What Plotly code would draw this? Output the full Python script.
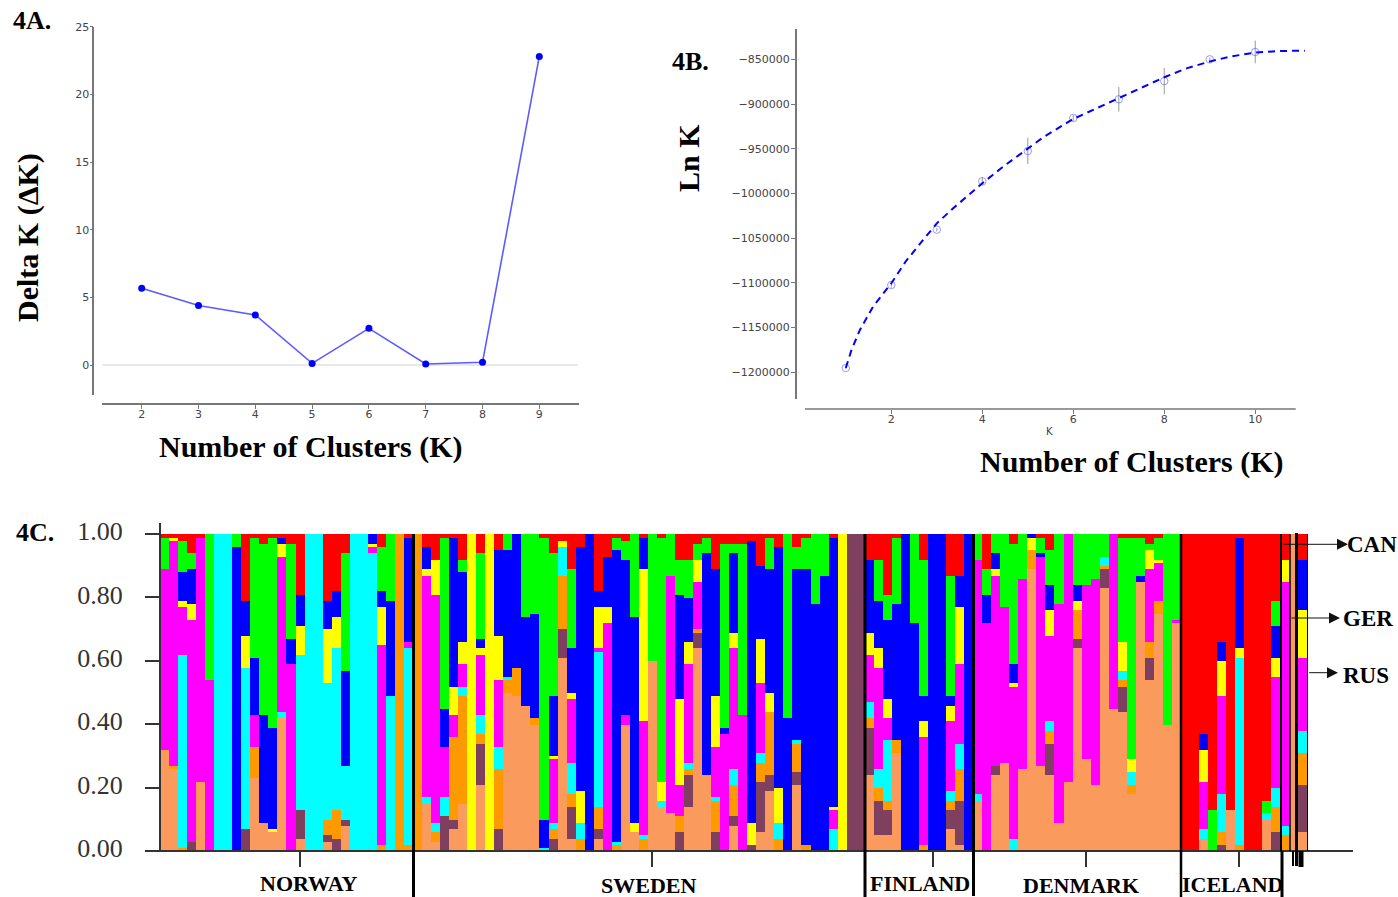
import re
import plotly.graph_objects as go

W, H = 1398, 897

# ---- 4A data
dk_k = [2, 3, 4, 5, 6, 7, 8, 9]
dk_values = [5.67, 4.39, 3.70, 0.12, 2.71, 0.07, 0.20, 22.8]

# ---- 4B data
ln_k = [1, 2, 3, 4, 5, 6, 7, 8, 9, 10]
ln_values = [-1195200, -1102400, -1040500, -986400, -952500, -915600, -894700, -874300, -850000, -841800]
ln_errors = [1500, 3000, 2000, 4500, 14700, 3400, 13600, 14700, 2000, 12700]
fit_k = [1.0, 1.125, 1.31, 1.6, 2.0, 2.33, 2.7, 3.0, 3.36, 3.73, 4.0, 4.46, 5.0, 5.34, 6.0, 6.99, 7.25, 7.61, 8.0, 8.49, 8.99, 9.44, 10.0, 10.54, 11.09]
fit_values = [-1195100, -1175000, -1152600, -1126500, -1100450, -1075100, -1052000, -1033400, -1016600, -999800, -988600,
              -970000, -949500, -937200, -916700, -893600, -886900, -878700, -870100, -860100, -852600, -847000, -842550, -840700, -840300]

# ---- 4C data: each bar lists cluster letter + cumulative top (percent), bottom to top
norway = ["P32 M89 G99 R100", "P26 O27 M98 Y99 R100", "O1 C62 M77 Y79 B88 G98 R100", "D3 M73 Y78 B89 G94 R100",
          "P22 M99 R100", "M54 G100", "C100", "C100", "B96 G100", "D7 C58 Y68 B79 R100",
          "P23 O33 M43 B61 G99 R100", "P9 B43 G97 R100", "P6 Y7 B39 G99 R100", "P42 C44 M93 Y97 B99 R100",
          "M59 B67 G97 R100", "P4 D13 C62 Y71 B81 R100", "C100", "C100", "P3 D5 O10 C53 Y70 B79 R100",
          "D4 O13 C64 Y74 B82 R100", "P8 D10 C27 B57 G94 R100", "C100", "C100", "C94 M96 Y97 B100",
          "O2 M65 Y77 B82 G96 R100", "C49 B79 G100", "O100", "O2 C64 M66 B99 R100", "O100"]
sweden = ["P15 C17 M87 Y89 B96 R100", "P3 O6 C9 M81 Y92 R100", "D11 C17 M33 B45 G99 R100", "P7 D10 O36 M43 Y52 B99 R100",
          "P15 O49 C52 M59 Y66 B88 G92 R100", "Y100", "P21 D34 O37 C43 M62 Y64 B67 G94 R100", "Y100",
          "D7 O26 C33 M54 Y68 B95 R100", "P50 O54 C55 B95 G100", "P49 O58 B100", "P46 B74 G100", "P40 O42 B75 G100",
          "C1 B10 G99 R100", "D4 O7 C9 M29 Y30 B49 G94 R100", "P61 D70 O87 C96 Y98 R100",
          "P4 D14 O18 C28 M48 Y50 B64 G89 R100", "O4 C9 Y19 B96 R100", "B100", "P4 D7 O14 C63 M64 Y77 B82 R100",
          "M72 Y77 B93 R100", "O2 C3 B95 G99 R100", "P40 M43 B92 G98 R100", "P6 Y9 B74 G100",
          "O4 C5 M41 Y89 B99 R100", "P60 G100", "P14 C16 Y22 G99 R100", "P12 M87 G100",
          "D6 O11 M21 Y48 B81 G92 R100", "P14 D24 O26 C28 M59 Y66 B80 G92 R100", "P64 D69 O70 M85 Y92 G97 R100",
          "P24 B94 G99 R100", "D6 O16 C17 M33 Y49 B89 R100", "M37 B39 G97 R100",
          "P8 D11 O21 C26 M64 Y69 B94 G97 R100", "M43 G97 R100", "D2 Y9 B98 R100",
          "P6 D22 O28 C31 M53 Y67 B90 R100", "P19 D24 O44 Y50 B89 G99 R100", "O4 C9 Y20 B96 R100", "B42 G100",
          "P21 D25 O34 C35 B89 G96 R100", "O2 B89 G99 R100", "B78 G100", "B87 G100", "C7 M13 Y14 B99 R100",
          "Y100", "D100", "D100"]
finland = ["P24 D39 O42 C47 M62 Y69 B92 R100", "P5 D16 O20 C26 M58 Y64 B79 G92 R100", "P5 D13 O16 C35 M42 Y48 B73 G81 R100",
           "P31 O35 B78 G99 R100", "B100", "B72 G100", "O2 M36 Y41 B49 G92 R100", "B100", "B100",
           "P7 D13 O16 C19 M41 Y46 B49 G87 R100", "P2 D16 O26 C34 M59 Y77 B87 R100", "B100"]
denmark = ["P16 C18 M92 G100", "M72 B81 G89 R100", "P24 D27 M87 Y89 B94 G100", "P28 M77 G100",
           "C4 M52 Y53 B59 G97 R100", "P26 M86 G100", "P89 O95 Y99 B100", "P27 M93 B94 G99 R100",
           "P24 D34 O38 C41 M68 Y76 B84 G95 R100", "P9 M78 G100", "P22 M100", "P64 D67 O76 Y79 B84 G100",
           "P29 M84 G100", "P21 M86 G100", "P83 D89 O90 C93 G100", "P45 M100", "P44 D52 O54 C57 Y66 G99 R100",
           "P18 O21 C25 Y29 G99 R100", "P85 B87 G99 R100", "P54 D61 O66 M89 Y95 G97 R100",
           "P75 O79 M91 Y92 G99 R100", "P40 G100", "P72 M73 G100"]
iceland = ["R100", "R100", "P4 C7 M22 Y32 B37 R100", "G13 R100", "D2 O6 C18 M49 Y60 B66 R100", "P13 R100",
           "O2 C61 Y64 B99 R100", "R100", "R100", "P10 C12 G16 R100", "D6 O14 C20 M55 Y61 B71 G79 R100"]
canada = ["O5 C8 M85 Y92 B92 R100"]
germany = ["P100"]
russia = ["P6 D21 O31 C38 M61 Y76 B92 R100"]

cluster_codes = ["P", "D", "O", "C", "M", "Y", "B", "G", "R"]
cluster_colors = ["#FA9A5C", "#7F3F5F", "#FF9900", "#00FFFF", "#FF00FF", "#FFFF00", "#0000FF", "#00FF00", "#FF0000"]
y_ticks_c = [0.0, 0.2, 0.4, 0.6, 0.8, 1.0]
y_labels_c = ["0.00", "0.20", "0.40", "0.60", "0.80", "1.00"]
y_ticks_a = [0, 5, 10, 15, 20, 25]
y_ticks_b = [-850000, -900000, -950000, -1000000, -1050000, -1100000, -1150000, -1200000]
y_labels_b = ["−850000", "−900000", "−950000", "−1000000", "−1050000", "−1100000", "−1150000", "−1200000"]
x_ticks_b = [2, 4, 6, 8, 10]

all_bars = norway + sweden + finland + denmark + iceland + canada + germany + russia
n_bars = len(all_bars)
series = {c: [0.0] * n_bars for c in cluster_codes}
for i, bar in enumerate(all_bars):
    prev = 0.0
    for code, top in re.findall(r"([A-Z])(\d+)", bar):
        series[code][i] = (float(top) - prev) / 100.0
        prev = float(top)


def fx(px):
    return px / W


def fy(py):
    return 1 - py / H


fig = go.Figure()

# 4A
fig.add_trace(go.Scatter(x=dk_k, y=dk_values, mode="lines+markers", xaxis="x", yaxis="y",
                         line=dict(color="rgba(50,50,255,0.8)", width=1.6),
                         marker=dict(color="#0000FF", size=7), showlegend=False))

# 4B
fig.add_trace(go.Scatter(x=ln_k, y=ln_values, mode="markers", xaxis="x2", yaxis="y2", cliponaxis=False,
                         error_y=dict(type="data", array=ln_errors, color="#AAAAAA", thickness=1.2, width=0),
                         marker=dict(symbol="circle-open", size=7.5, color="rgba(90,90,255,0.6)", line=dict(width=1)),
                         showlegend=False))
fig.add_trace(go.Scatter(x=fit_k, y=fit_values, mode="lines", xaxis="x2", yaxis="y2", cliponaxis=False,
                         line=dict(color="#0000FF", width=2, dash="7px,5px"), showlegend=False))

# 4C
for code, color in zip(cluster_codes, cluster_colors):
    fig.add_trace(go.Bar(x=list(range(n_bars)), y=series[code], width=1.0, xaxis="x3", yaxis="y3",
                         marker=dict(color=color, line=dict(width=0)), showlegend=False))

PITCH = 9.035


def bar_pos(px):
    return (px - 160) / PITCH - 0.5


dark = "#333333"
fig.update_layout(
    width=W, height=H, margin=dict(l=0, r=0, t=0, b=0, pad=0, autoexpand=False), autosize=False,
    paper_bgcolor="white", plot_bgcolor="rgba(0,0,0,0)", barmode="stack", bargap=0,
    font=dict(family="DejaVu Sans", color="#444444", size=11),
    xaxis=dict(domain=[fx(102.3), fx(579.3)], range=[1.306, 9.704], anchor="free", position=fy(404.3),
               tickvals=dk_k, ticks="outside", ticklen=4, tickcolor="#777777", showgrid=False, zeroline=False,
               showline=True, linecolor="#777777", linewidth=1.5, ticklabelstandoff=-4,
               tickfont=dict(size=11, color="#444444")),
    yaxis=dict(domain=[fy(395), fy(26.7)], range=[-2.217, 25], anchor="free", position=fx(93.3),
               tickvals=y_ticks_a, ticks="outside", ticklen=3, tickcolor="#777777", showgrid=False, zeroline=False,
               showline=True, linecolor="#777777", linewidth=1.5, ticklabelstandoff=-2,
               tickfont=dict(size=11, color="#444444")),
    xaxis2=dict(domain=[fx(805), fx(1306)], range=[0.103, 11.115], anchor="free", position=fy(409),
                tickvals=x_ticks_b, ticks="outside", ticklen=4, tickcolor="#777777", showgrid=False, zeroline=False,
                showline=False, ticklabelstandoff=-4, tickfont=dict(size=11, color="#444444")),
    yaxis2=dict(domain=[fy(399.3), fy(29.3)], range=[-1230185, -816454], anchor="free", position=fx(795.7),
                tickvals=y_ticks_b, ticktext=y_labels_b, ticks="outside", ticklen=4, tickcolor="#777777",
                showgrid=False, zeroline=False, showline=True, linecolor="#777777", linewidth=1.5,
                ticklabelstandoff=-1, tickfont=dict(size=11, color="#444444")),
    xaxis3=dict(domain=[fx(147), fx(1353)], range=[bar_pos(147), bar_pos(1353)], anchor="free", position=fy(851),
                tickvals=[bar_pos(p) for p in (300, 652.3, 932.7, 1085.5, 1239.3)], ticktext=["", "", "", "", ""],
                ticks="outside", ticklen=15, tickwidth=2, tickcolor=dark, showgrid=False, zeroline=False,
                showline=True, linecolor=dark, linewidth=2),
    yaxis3=dict(domain=[fy(851), fy(522.7)], range=[0, 1.036], anchor="free", position=fx(160),
                tickvals=y_ticks_c, ticktext=y_labels_c, ticks="outside", ticklen=14, tickwidth=2, tickcolor=dark,
                showgrid=False, zeroline=False, showline=True, linecolor=dark, linewidth=2, ticklabelstandoff=17,
                ticklabelshift=-3, tickfont=dict(family="Liberation Serif", size=26, color="#333333")),
)


def txt(s, px, py, size=28, bold=True, angle=0, color="#000000", family="Liberation Serif"):
    label = f"<b>{s}</b>" if bold else s
    fig.add_annotation(text=label, x=fx(px), y=fy(py), xref="paper", yref="paper", showarrow=False,
                       xanchor="center", yanchor="middle", textangle=angle,
                       font=dict(family=family, size=size, color=color))


txt("4A.", 32, 20, 26)
txt("4B.", 690, 62, 26)
txt("4C.", 35, 532, 26)
txt("Number of Clusters (K)", 311, 447, 30)
txt("Number of Clusters (K)", 1132, 462, 30)
txt("Delta K (ΔK)", 28, 238, 30, angle=-90)
txt("Ln K", 688, 158, 30, angle=-90)
txt("K", 1049, 431.5, 10, bold=False, color="#444444", family="DejaVu Sans")
txt("NORWAY", 309, 883, 22)
txt("SWEDEN", 648, 885, 22)
txt("FINLAND", 920, 883, 22)
txt("DENMARK", 1081, 885, 22)
txt("ICELAND", 1232, 884.5, 22)
txt("CAN", 1371.5, 544, 23)
txt("GER", 1368, 618, 23)
txt("RUS", 1366, 675, 23)

# arrows to the single-sample labels
for start, end, py in [(1282, 1348, 544.3), (1290, 1340, 618), (1307.7, 1338, 672.7)]:
    fig.add_annotation(text="", x=fx(end), y=fy(py), xref="paper", yref="paper",
                       ax=start - end, ay=0, axref="pixel", ayref="pixel", showarrow=True,
                       arrowhead=2, arrowsize=2.2, arrowwidth=1, arrowcolor="#111111")

shapes = [dict(type="line", xref="paper", yref="y", x0=fx(102.3), x1=fx(578), y0=0, y1=0,
               line=dict(color="#D4D4D4", width=1.2), layer="below"),
          dict(type="line", xref="paper", yref="paper", x0=fx(805), x1=fx(1295.7), y0=fy(409), y1=fy(409),
               line=dict(color="#777777", width=1.5))]
separators = [(413.5, 534, 897, 3), (865, 534, 897, 3), (973.5, 534, 896, 3), (1181, 534, 897, 2.5),
              (1281, 534, 851, 2), (1282, 851, 897, 3), (1290, 534, 851, 1.5), (1293, 851, 866, 2),
              (1296.5, 533, 866, 3), (1301, 851, 867, 5), (1307.5, 534, 851, 1)]
for px, y0, y1, lw in separators:
    shapes.append(dict(type="line", xref="paper", yref="paper", x0=fx(px), x1=fx(px), y0=fy(y0), y1=fy(y1),
                       line=dict(color="#000000", width=lw)))
fig.update_layout(shapes=shapes)

fig.write_html("out.html", config={"displayModeBar": False},
               post_script="document.body.style.margin='0';document.body.style.overflow='hidden';")
